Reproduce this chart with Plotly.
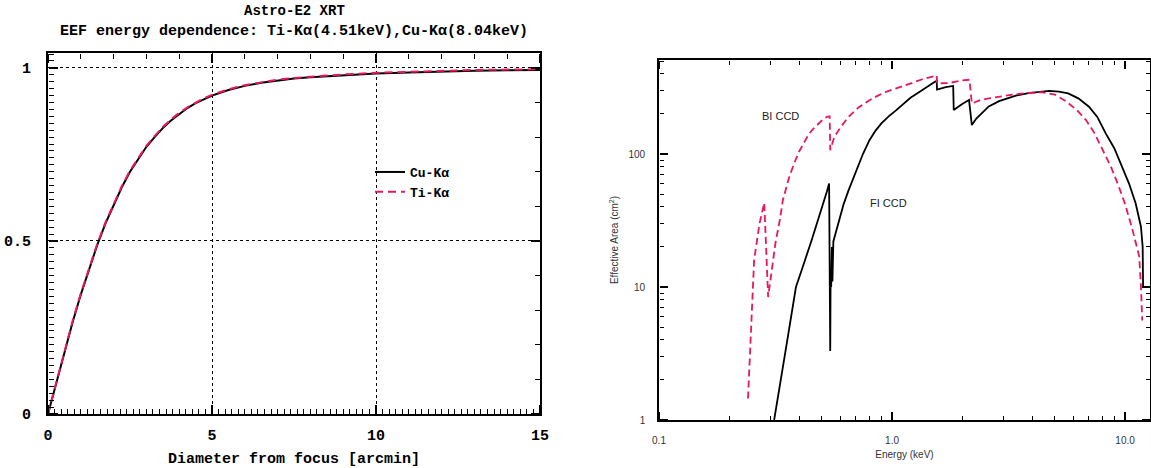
import plotly.graph_objects as go

W, H = 1151, 468

# ---------------- Left panel data: EEF vs diameter ----------------
diameter = [0, 0.25, 0.5, 0.75, 1.0, 1.25, 1.5, 1.75, 2.0, 2.25, 2.5, 2.75, 3.0, 3.25, 3.5, 3.75,
            4.0, 4.25, 4.5, 4.75, 5.0, 5.5, 6.0, 6.5, 7.0, 7.5, 8.0, 9.0, 10.0, 11.0, 12.0,
            13.0, 14.0, 15.0]
eef_cu = [0, 0.09, 0.18, 0.265, 0.345, 0.42, 0.488, 0.55, 0.605, 0.655, 0.70, 0.738, 0.772, 0.80,
          0.826, 0.848, 0.867, 0.884, 0.898, 0.91, 0.92, 0.936, 0.948, 0.957, 0.964, 0.969,
          0.973, 0.979, 0.984, 0.987, 0.99, 0.992, 0.993, 0.994]
eef_ti = [0, 0.092, 0.182, 0.268, 0.348, 0.423, 0.491, 0.553, 0.608, 0.658, 0.703, 0.741, 0.775,
          0.803, 0.829, 0.851, 0.87, 0.886, 0.9, 0.912, 0.922, 0.938, 0.95, 0.959, 0.966, 0.971,
          0.975, 0.981, 0.986, 0.989, 0.992, 0.994, 0.995, 0.996]

# ---------------- Right panel data: effective area ----------------
fi_energy = [0.30, 0.312, 0.35, 0.387, 0.41, 0.43, 0.45, 0.47, 0.49, 0.51, 0.525, 0.537, 0.543,
             0.545, 0.548, 0.552, 0.555, 0.56, 0.575, 0.59, 0.62, 0.65, 0.70, 0.75, 0.80, 0.85,
             0.90, 0.97, 1.04, 1.12, 1.2, 1.3, 1.38, 1.45, 1.51, 1.555, 1.56, 1.70, 1.83, 1.84,
             2.0, 2.14, 2.2, 2.3, 2.4, 2.6, 2.88, 3.1, 3.4, 3.85, 4.3, 4.72, 5.2, 5.7, 6.3, 7.0,
             7.6, 8.26, 9.0, 9.7, 10.4, 11.1, 11.7, 11.9, 11.95]
fi_area = [0.8, 1.0, 3.4, 10, 13.5, 17, 22, 28, 35, 44, 52, 60, 3.3,
           12, 10, 20, 11, 22, 26, 32, 42, 53, 75, 100, 127, 150,
           170, 193, 213, 240, 265, 290, 312, 330, 345, 355, 305, 318, 325, 214,
           238, 255, 165, 185, 200, 228, 250, 262, 275, 287, 294, 298, 295, 286, 262, 227,
           190, 143, 110, 80, 60, 42.6, 28.4, 20, 10]

bi_energy = [0.241, 0.248, 0.256, 0.27, 0.283, 0.294, 0.305, 0.316, 0.33, 0.34, 0.36, 0.38, 0.40,
             0.423, 0.44, 0.46, 0.48, 0.495, 0.51, 0.526, 0.540, 0.543, 0.565, 0.60, 0.65, 0.72,
             0.80, 0.87, 0.95, 1.05, 1.16, 1.25, 1.35, 1.43, 1.51, 1.555, 1.56, 1.76, 1.99,
             2.15, 2.2, 2.4, 2.6, 2.88, 3.1, 3.4, 4.0, 4.4, 5.0, 5.56, 6.2, 6.8, 7.4, 8.0, 8.7,
             9.4, 10.0, 10.7, 11.5, 11.7, 11.85]
bi_area = [1.45, 5, 16, 30, 43, 8.4, 14, 21.4, 32, 45, 65, 85, 105,
           127, 142, 155, 168, 178, 185, 190, 192, 107, 134, 158, 190, 225,
           254, 275, 295, 313, 330, 348, 365, 376, 386, 390, 340, 342, 358,
           362, 240, 255, 262, 270, 276, 282, 289, 292, 280, 250, 215, 180, 143, 107, 80,
           57, 42, 28, 17, 10, 5.6]

# tick definitions
left_x_range = [0, 15]
left_y_range = [0, 1.043]
right_x_range = [-1, 1.107]   # log10 units
right_y_range = [0, 2.707]    # log10 units
right_x_ticks = [0.1, 1, 10]
right_x_text = ["0.1", "1.0", "10.0"]
right_y_ticks = [1, 10, 100]
right_y_text = ["1", "10", "100"]
right_x_minor = [0.2, 0.3, 0.4, 0.5, 0.6, 0.7, 0.8, 0.9, 2, 3, 4, 5, 6, 7, 8, 9]
right_y_minor = [2, 3, 4, 5, 6, 7, 8, 9, 20, 30, 40, 50, 60, 70, 80, 90, 200, 300, 400, 500]

RED = "#e8185a"
MONO = "Liberation Mono"
SANS = "Liberation Sans"

# panel geometry (paper fractions)
L_X = [48 / W, 540 / W]
L_Y = [1 - 414 / H, 1 - 53 / H]
R_X = [659 / W, 1150 / W]
R_Y = [1 - 420 / H, 1 - 60 / H]

fig = go.Figure()
fig.add_trace(go.Scatter(x=diameter, y=eef_cu, mode="lines", name="Cu-Kα",
                         line=dict(color="black", width=2), xaxis="x", yaxis="y"))
fig.add_trace(go.Scatter(x=diameter, y=eef_ti, mode="lines", name="Ti-Kα",
                         line=dict(color=RED, width=2, dash="8px,5px"), xaxis="x", yaxis="y"))
fig.add_trace(go.Scatter(x=fi_energy, y=fi_area, mode="lines", showlegend=False,
                         line=dict(color="black", width=1.8), xaxis="x2", yaxis="y2"))
fig.add_trace(go.Scatter(x=bi_energy, y=bi_area, mode="lines", showlegend=False,
                         line=dict(color=RED, width=1.8, dash="7px,4px"), xaxis="x2", yaxis="y2"))
# empty traces that register the tick-only overlay axes
for xa, ya in [("x3", "y3"), ("x4", "y4"), ("x5", "y5"), ("x6", "y6")]:
    fig.add_trace(go.Scatter(x=[], y=[], mode="lines", showlegend=False, hoverinfo="skip",
                             xaxis=xa, yaxis=ya))

bold_mono = dict(family=MONO, size=15, color="black", weight="bold")
sans_font = dict(family=SANS, size=10, color="#333")


def tick_axis(overlay, side, pos, rng, typ, major, minor, majlen, minlen):
    d = dict(overlaying=overlay, anchor="free", position=pos, side=side, range=rng, type=typ,
             showline=False, showgrid=False, zeroline=False, showticklabels=False,
             ticks="outside", ticklen=majlen, tickwidth=2, tickcolor="black",
             automargin=False, fixedrange=True)
    if isinstance(major, list):
        d.update(tickmode="array", tickvals=major)
    else:
        d.update(tickmode="linear", tick0=0, dtick=major)
    if isinstance(minor, list):
        d["minor"] = dict(ticks="outside", ticklen=minlen, tickwidth=1.4, tickcolor="black",
                          tickmode="array", tickvals=minor, showgrid=False)
    else:
        d["minor"] = dict(ticks="outside", ticklen=minlen, tickwidth=1.4, tickcolor="black",
                          tick0=0, dtick=minor, showgrid=False)
    return d


fig.update_layout(
    width=W, height=H,
    margin=dict(l=0, r=0, t=0, b=0),
    paper_bgcolor="white", plot_bgcolor="white",
    xaxis=dict(domain=L_X, anchor="y", range=left_x_range, automargin=False,
               tickmode="linear", tick0=0, dtick=5, ticks="",
               showline=True, linewidth=2, linecolor="black", mirror=True,
               showgrid=True, gridcolor="black", gridwidth=1, griddash="3px,3px",
               zeroline=False, tickfont=bold_mono, ticklabelstandoff=6,
               title=dict(text="Diameter from focus [arcmin]", font=bold_mono, standoff=10)),
    yaxis=dict(domain=L_Y, anchor="x", range=left_y_range, automargin=False,
               tickmode="linear", tick0=0, dtick=0.5, ticks="",
               showline=True, linewidth=2, linecolor="black", mirror=True,
               showgrid=True, gridcolor="black", gridwidth=1, griddash="3px,3px",
               zeroline=False, tickfont=bold_mono, ticklabelstandoff=12),
    xaxis2=dict(domain=R_X, anchor="y2", type="log", range=right_x_range, automargin=False,
                tickmode="array", tickvals=right_x_ticks, ticktext=right_x_text, ticks="",
                showline=True, linewidth=1.6, linecolor="black", mirror=True,
                showgrid=False, zeroline=False, tickfont=sans_font, ticklabelstandoff=10,
                title=dict(text="Energy (keV)", font=sans_font, standoff=6)),
    yaxis2=dict(domain=R_Y, anchor="x2", type="log", range=right_y_range, automargin=False,
                tickmode="array", tickvals=right_y_ticks, ticktext=right_y_text, ticks="",
                showline=True, linewidth=1.6, linecolor="black", mirror=True,
                showgrid=False, zeroline=False, tickfont=sans_font, ticklabelstandoff=10,
                title=dict(text="Effective Area (cm<sup>2</sup>)", font=sans_font, standoff=8)),
    # tick-only overlay axes: their "outside" ticks point into the frame
    xaxis3=tick_axis("x", "top", L_Y[0], left_x_range, "linear", 5, 0.2, 9, 5),
    xaxis4=tick_axis("x", "bottom", L_Y[1], left_x_range, "linear", 5, 1, 9, 5),
    yaxis3=tick_axis("y", "right", L_X[0], left_y_range, "linear", 0.5, 0.02, 9, 5),
    yaxis4=tick_axis("y", "left", L_X[1], left_y_range, "linear", 0.5, 0.1, 9, 5),
    xaxis5=tick_axis("x2", "top", R_Y[0], right_x_range, "log", right_x_ticks, right_x_minor, 8, 4),
    xaxis6=tick_axis("x2", "bottom", R_Y[1], right_x_range, "log", right_x_ticks, right_x_minor, 8, 4),
    yaxis5=tick_axis("y2", "right", R_X[0], right_y_range, "log", right_y_ticks, right_y_minor, 8, 4),
    yaxis6=tick_axis("y2", "left", R_X[1], right_y_range, "log", right_y_ticks, right_y_minor, 8, 4),
    legend=dict(x=370 / W, y=1 - 157 / H, xanchor="left", yanchor="top",
                bgcolor="rgba(0,0,0,0)",
                font=dict(family=MONO, size=13, color="black", weight="bold"),
                tracegroupgap=0, itemwidth=30),
    showlegend=True,
)

fig.add_annotation(text="Astro-E2 XRT", xref="paper", yref="paper",
                   x=294 / W, y=1 - 11 / H, showarrow=False,
                   font=dict(family=MONO, size=14, color="black", weight="bold"),
                   xanchor="center", yanchor="middle")
fig.add_annotation(text="EEF energy dependence: Ti-Kα(4.51keV),Cu-Kα(8.04keV)",
                   xref="paper", yref="paper", x=294 / W, y=1 - 32 / H, showarrow=False,
                   font=bold_mono, xanchor="center", yanchor="middle")
fig.add_annotation(text="BI CCD", xref="paper", yref="paper", x=780 / W, y=1 - 116 / H,
                   showarrow=False, font=dict(family=SANS, size=11, color="#222"),
                   xanchor="center", yanchor="middle")
fig.add_annotation(text="FI CCD", xref="paper", yref="paper", x=888 / W, y=1 - 203 / H,
                   showarrow=False, font=dict(family=SANS, size=11, color="#222"),
                   xanchor="center", yanchor="middle")

fig.write_html("out.html")
